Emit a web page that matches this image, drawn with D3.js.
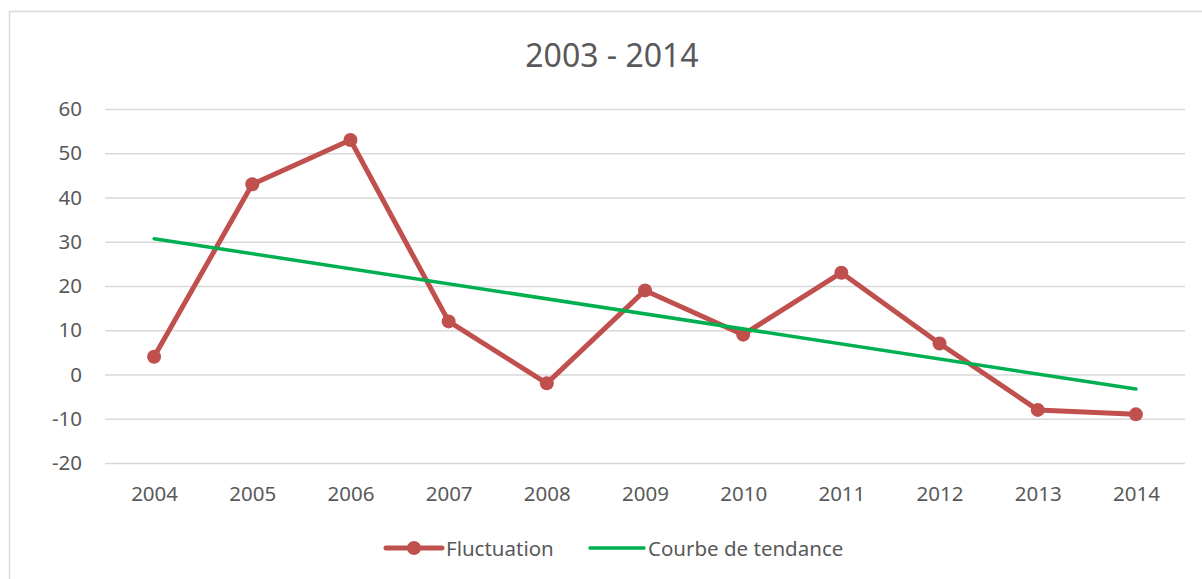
<!DOCTYPE html>
<html>
<head>
<meta charset="utf-8">
<script src="https://cdn.jsdelivr.net/npm/d3@7"></script>
<style>
    body { margin: 0; background: #fff; }
    svg text { font-family: "Noto Sans", sans-serif; fill: #595959; }
</style>
</head>
<body>
<svg class="lineChart" width="1202" height="579"></svg>
<script>
var years = ["2004", "2005", "2006", "2007", "2008", "2009", "2010", "2011", "2012", "2013", "2014"];
var fluctuation = [4, 43, 53, 12, -2, 19, 9, 23, 7, -8, -9];
// trend line end points
var trendYears = ["2004", "2014"];
var trendValues = [30.7, -3.3];
var yTicks = [-20, -10, 0, 10, 20, 30, 40, 50, 60];

renderGraph();

function renderGraph() {

    var svg = d3.select(".lineChart"),
        margin = {
            top: 109,
            right: 17,
            bottom: 116,
            left: 105
        },
        width = +svg.attr("width") - margin.left - margin.right,
        height = +svg.attr("height") - margin.top - margin.bottom;

    // chart frame
    svg.append("rect")
        .attr("x", 9.5)
        .attr("y", 11.5)
        .attr("width", 1300)
        .attr("height", 700)
        .attr("fill", "none")
        .attr("stroke", "#d9d9d9")
        .attr("stroke-width", 1.5);

    svg.append("text")
        .attr("x", 612)
        .attr("y", 67)
        .attr("text-anchor", "middle")
        .style("font-size", "32px")
        .text("2003 - 2014");

    var x = d3.scalePoint().domain(years).range([0, width]).padding(0.5),
        y = d3.scaleLinear().domain([-20, 60]).range([height, 0]);

    var g = svg.append("g")
        .attr("transform", "translate(" + margin.left + "," + margin.top + ")");

    // gridlines
    g.append("g")
        .call(d3.axisLeft(y).tickValues(yTicks).tickSize(-width).tickFormat(""))
        .call(function (a) {
            a.select(".domain").remove();
            a.selectAll("line").attr("stroke", "#d9d9d9").attr("stroke-width", 1.5);
        });

    g.append("g")
        .call(d3.axisLeft(y).tickValues(yTicks).tickSize(0).tickPadding(23)
            .tickFormat(function (d) { return String(d); }))
        .call(function (a) {
            a.select(".domain").remove();
            a.selectAll("text").style("font-size", "20.5px").style("font-family", "Noto Sans").attr("fill", "#595959");
        });

    g.append("g")
        .attr("transform", "translate(0," + height + ")")
        .call(d3.axisBottom(x).tickSize(0).tickPadding(23))
        .call(function (a) {
            a.select(".domain").remove();
            a.selectAll("text").style("font-size", "20.5px").style("font-family", "Noto Sans").attr("fill", "#595959");
        });

    var line = d3.line()
        .x(function (d, i) { return x(years[i]); })
        .y(function (d) { return y(d); });

    g.append("path")
        .datum(fluctuation)
        .attr("fill", "none")
        .attr("stroke", "#c0504d")
        .attr("stroke-width", 5)
        .attr("stroke-linejoin", "round")
        .attr("d", line);

    g.selectAll(".dot")
        .data(fluctuation)
        .enter().append("circle")
        .attr("class", "dot")
        .attr("cx", function (d, i) { return x(years[i]); })
        .attr("cy", function (d) { return y(d); })
        .attr("r", 7)
        .attr("fill", "#c0504d");

    var trend = d3.line()
        .x(function (d, i) { return x(trendYears[i]); })
        .y(function (d) { return y(d); });

    g.append("path")
        .datum(trendValues)
        .attr("fill", "none")
        .attr("stroke", "#00b050")
        .attr("stroke-width", 3.5)
        .attr("stroke-linecap", "round")
        .attr("d", trend);

    // legend
    var legend = svg.append("g").attr("transform", "translate(0,548)");

    legend.append("line")
        .attr("x1", 386).attr("x2", 442)
        .attr("stroke", "#c0504d").attr("stroke-width", 5).attr("stroke-linecap", "round");
    legend.append("circle")
        .attr("cx", 414).attr("r", 7).attr("fill", "#c0504d");
    legend.append("text")
        .attr("x", 446).attr("y", 8)
        .style("font-size", "20.5px")
        .text("Fluctuation");

    legend.append("line")
        .attr("x1", 590).attr("x2", 644)
        .attr("stroke", "#00b050").attr("stroke-width", 3.5).attr("stroke-linecap", "round");
    legend.append("text")
        .attr("x", 648).attr("y", 8)
        .style("font-size", "20.5px")
        .text("Courbe de tendance");
}
</script>
</body>
</html>
